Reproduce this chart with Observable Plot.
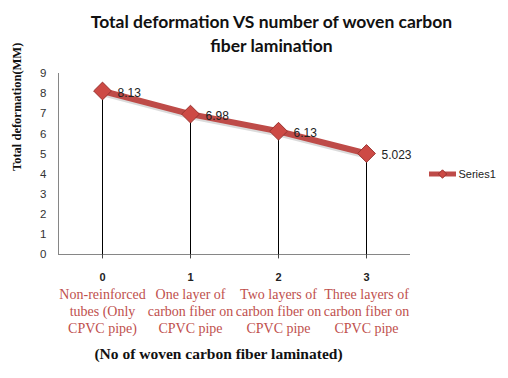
<!DOCTYPE html>
<html>
<head>
<meta charset="utf-8">
<script src="https://cdn.jsdelivr.net/npm/d3@7"></script>
<script src="https://cdn.jsdelivr.net/npm/@observablehq/plot@0.6"></script>
<style>
  html, body { margin: 0; padding: 0; background: #fff; }
  #chart svg { display: block; }
</style>
</head>
<body>
<div id="chart"></div>
<script>
const layers = [0, 1, 2, 3];
const deformation = [8.13, 6.98, 6.13, 5.023];
const valueLabels = ["8.13", "6.98", "6.13", "5.023"];
const categoryLabels = [
  "Non-reinforced\ntubes (Only\nCPVC pipe)",
  "One layer of\ncarbon fiber on\nCPVC pipe",
  "Two layers of\ncarbon fiber on\nCPVC pipe",
  "Three layers of\ncarbon fiber on\nCPVC pipe"
];
const yTicks = [0, 1, 2, 3, 4, 5, 6, 7, 8, 9];
const titleText = "Total deformation VS number of woven carbon\nfiber lamination";
const xTitle = "(No of woven carbon fiber laminated)";
const yTitle = "Total deformation(MM)";
const seriesName = "Series1";

const data = layers.map((x, i) => ({x, y: deformation[i], label: valueLabels[i], cat: categoryLabels[i]}));

const RED = "#be4b48";
const GRAY = "#868686";

const chart = Plot.plot({
  width: 508,
  height: 378,
  marginLeft: 58,
  marginRight: 98,
  marginTop: 73,
  marginBottom: 124,
  style: {background: "#fff", overflow: "visible"},
  x: {type: "point", domain: layers, padding: 0.5, axis: null},
  y: {type: "linear", domain: [0, 9], axis: null},
  marks: [
    // title
    Plot.text([titleText], {frameAnchor: "top", dy: -63, dx: 37, text: d => d, fontFamily: "Lato", fontWeight: "bold", fontSize: 17.5, fill: "#111", lineHeight: 1.4, textAnchor: "middle", lineAnchor: "top"}),
    // axes lines
    Plot.frame({anchor: "left", stroke: GRAY}),
    Plot.ruleY([0], {stroke: GRAY}),
    Plot.ruleX(layers, {x: d => d, y1: 0, y2: -0.22, stroke: "#444"}),
    // y tick labels
    Plot.text(yTicks, {y: d => d, frameAnchor: "left", dx: -12, text: d => String(d), textAnchor: "end", fontFamily: "Liberation Sans", fontSize: 11.5, fill: "#333"}),
    // drop lines
    Plot.ruleX(data, {x: "x", y1: 0, y2: "y", stroke: "#000", strokeWidth: 1}),
    // shadow of line
    Plot.line(data, {x: "x", y: "y", stroke: "#999", strokeOpacity: 0.35, strokeWidth: 6, dx: 1.5, dy: 2.5}),
    Plot.line(data, {x: "x", y: "y", stroke: RED, strokeWidth: 6}),
    Plot.dot(data, {x: "x", y: "y", symbol: "diamond2", r: 8, fill: "#cd4a45", stroke: "#9a3431", strokeWidth: 1}),
    // value labels
    Plot.text(data, {x: "x", y: "y", text: "label", dx: 15, dy: 2, textAnchor: "start", fontFamily: "Liberation Sans", fontSize: 12, fill: "#222"}),
    // x category numbers
    Plot.text(data, {x: "x", y: () => 0, text: d => String(d.x), dy: 23, fontFamily: "Liberation Sans", fontSize: 11, fontWeight: "bold", fill: "#222"}),
    // category labels
    Plot.text(data, {x: "x", y: () => 0, text: "cat", dy: 32, lineAnchor: "top", lineHeight: 1.22, fontFamily: "Liberation Serif", fontSize: 14, fill: "#c0504d"}),
    // x title
    Plot.text([xTitle], {frameAnchor: "bottom", dx: -16, dy: 104, text: d => d, fontFamily: "Liberation Serif", fontWeight: "bold", fontSize: 15.5, fill: "#111"}),
    // y title
    Plot.text([yTitle], {frameAnchor: "left", dx: -42, dy: 7, rotate: -90, text: d => d, fontFamily: "Liberation Serif", fontWeight: "bold", fontSize: 12.5, fill: "#111"}),
    // legend
    Plot.text([seriesName], {frameAnchor: "right", dx: 48, dy: 10, text: d => d, textAnchor: "start", fontFamily: "Liberation Sans", fontSize: 11, fill: "#222"})
  ]
});

// legend symbol (line + diamond)
const svg = d3.select(chart);
const g = svg.append("g");
const lx = 429, ly = 174;
g.append("line").attr("x1", lx).attr("x2", lx + 27).attr("y1", ly).attr("y2", ly).attr("stroke", RED).attr("stroke-width", 5);
g.append("path").attr("d", d3.symbol(d3.symbolDiamond2, 45)()).attr("transform", `translate(${lx + 13.5},${ly})`).attr("fill", "#cd4a45").attr("stroke", "#9a3431");

document.getElementById("chart").appendChild(chart);
</script>
</body>
</html>
